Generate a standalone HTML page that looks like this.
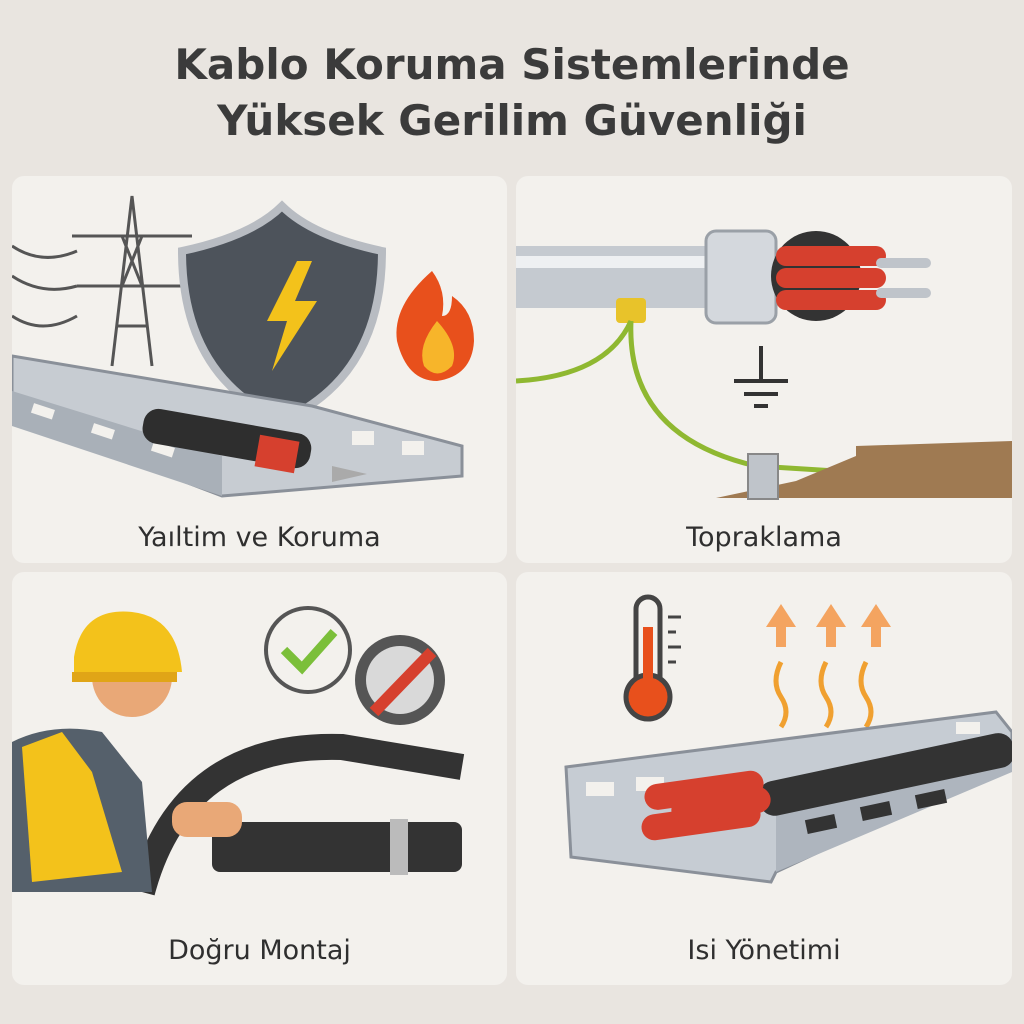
<!DOCTYPE html>
<html><head><meta charset="utf-8"><style>
html,body{margin:0;padding:0;}
body{width:1024px;height:1024px;background:#e9e5e0;font-family:"DejaVu Sans","Liberation Sans",sans-serif;position:relative;overflow:hidden;}
.t{position:absolute;left:0;width:1024px;text-align:center;font-weight:bold;font-size:42px;color:#3b3b3b;}
.p{position:absolute;background:#f3f1ed;border-radius:12px;}
.l{position:absolute;width:100%;text-align:center;font-size:27px;color:#2f2f2f;}
svg{position:absolute;left:0;top:0;}
</style></head><body>
<div class="t" style="top:40px">Kablo Koruma Sistemlerinde</div>
<div class="t" style="top:96px">Yüksek Gerilim Güvenliği</div>

<div class="p" style="left:12px;top:176px;width:495px;height:387px">
<svg width="495" height="387">
<g stroke="#555" stroke-width="3" fill="none">
<path d="M100 190 L120 20 L140 190 M105 150 L135 150 M110 110 L130 110 M60 60 L180 60 M65 110 L175 110 M110 60 L130 110 M130 60 L110 110"/>
<path d="M0 70 Q30 90 65 75 M0 100 Q30 120 65 110 M0 140 Q30 160 65 140"/>
</g>
<path d="M170 75 Q240 60 270 30 Q300 60 370 75 Q370 200 270 245 Q170 200 170 75Z" fill="#4d535b" stroke="#b8bcc2" stroke-width="8"/>
<path d="M285 85 L255 145 L275 145 L260 195 L305 125 L283 125 L300 85Z" fill="#f3c21b"/>
<path d="M420 95 Q380 130 385 165 Q395 205 425 205 Q460 200 462 165 Q462 135 440 120 Q440 140 430 140 Q435 115 420 95Z" fill="#e8501c"/>
<path d="M425 145 Q405 170 412 190 Q425 205 440 190 Q448 170 425 145Z" fill="#f7b52a"/>
<path d="M0 180 L300 230 L450 270 L450 300 L210 320 L0 240Z" fill="#c7ccd2" stroke="#8a9099" stroke-width="3"/>
<path d="M0 215 L210 280 L210 320 L0 250Z" fill="#a9b0b8"/>
<g fill="#f3f1ed"><rect x="20" y="230" width="22" height="10" transform="rotate(18 30 235)"/><rect x="80" y="250" width="22" height="10" transform="rotate(18 90 255)"/><rect x="140" y="268" width="22" height="10" transform="rotate(18 150 273)"/><rect x="340" y="255" width="22" height="14"/><rect x="390" y="265" width="22" height="14"/></g>
<rect x="130" y="245" width="170" height="35" rx="15" fill="#2e2e2e" transform="rotate(10 215 262)"/>
<rect x="245" y="262" width="40" height="32" fill="#d6402e" transform="rotate(10 265 278)"/>
<path d="M320 290 L355 298 L320 306Z" fill="#aaa"/>
</svg>
<div class="l" style="top:346px">Yaıltim ve Koruma</div>
</div>

<div class="p" style="left:516px;top:176px;width:496px;height:387px">
<svg width="496" height="387">
<rect x="0" y="70" width="200" height="62" fill="#c5cad0"/>
<rect x="0" y="80" width="200" height="12" fill="#eef0f2"/>
<rect x="190" y="55" width="70" height="92" rx="10" fill="#d4d8dd" stroke="#9aa0a7" stroke-width="3"/>
<ellipse cx="300" cy="100" rx="45" ry="45" fill="#333"/>
<g fill="#d6402e"><rect x="260" y="70" width="110" height="20" rx="10"/><rect x="260" y="92" width="110" height="20" rx="10"/><rect x="260" y="114" width="110" height="20" rx="10"/></g>
<g fill="#bfc4ca"><rect x="360" y="82" width="55" height="10" rx="5"/><rect x="360" y="112" width="55" height="10" rx="5"/></g>
<rect x="100" y="122" width="30" height="25" rx="4" fill="#e8c32a"/>
<path d="M0 205 Q90 200 115 145 M115 145 Q110 260 240 290 L400 300" stroke="#8fb831" stroke-width="5" fill="none"/>
<path d="M200 322 L280 305 L340 280 L340 270 L496 265 L496 322 Z" fill="#9f7a52"/>
<rect x="232" y="278" width="30" height="45" fill="#bfc4ca" stroke="#888" stroke-width="2"/>
<g stroke="#333" stroke-width="4"><path d="M245 170 L245 205 M218 205 L272 205 M228 218 L262 218 M238 230 L252 230"/></g>
</svg>
<div class="l" style="top:346px">Topraklama</div>
</div>

<div class="p" style="left:12px;top:572px;width:495px;height:413px">
<svg width="495" height="413">
<circle cx="296" cy="78" r="42" fill="#f3f1ed" stroke="#555" stroke-width="4"/>
<path d="M272 78 L290 96 L322 60" stroke="#7bbf3a" stroke-width="9" fill="none"/>
<circle cx="388" cy="108" r="45" fill="#555"/><circle cx="388" cy="108" r="34" fill="#d9d9d9"/>
<path d="M362 140 L420 80" stroke="#d6402e" stroke-width="12"/>
<path d="M130 320 Q170 170 330 175 L450 195" stroke="#333" stroke-width="26" fill="none"/>
<rect x="200" y="250" width="250" height="50" rx="8" fill="#333"/>
<rect x="378" y="247" width="18" height="56" fill="#bbb"/>
<path d="M0 170 Q40 150 90 160 L130 210 L140 320 L0 320Z" fill="#55606b"/>
<path d="M10 175 L50 160 L80 200 L110 300 L20 310Z" fill="#f3c21b"/>
<circle cx="120" cy="105" r="40" fill="#e9a877"/>
<path d="M62 85 Q70 35 120 40 Q165 45 170 100 L62 100Z" fill="#f3c21b"/>
<rect x="60" y="100" width="105" height="10" fill="#e0a517"/>
<rect x="160" y="230" width="70" height="35" rx="15" fill="#e9a877"/>
</svg>
<div class="l" style="top:363px">Doğru Montaj</div>
</div>

<div class="p" style="left:516px;top:572px;width:496px;height:413px">
<svg width="496" height="413">
<rect x="120" y="25" width="24" height="100" rx="12" fill="#f3f1ed" stroke="#444" stroke-width="5"/>
<circle cx="132" cy="125" r="22" fill="#e8501c" stroke="#444" stroke-width="5"/>
<rect x="127" y="55" width="10" height="70" fill="#e8501c"/>
<g stroke="#444" stroke-width="3"><path d="M152 45 L165 45 M152 60 L160 60 M152 75 L165 75 M152 90 L160 90"/></g>
<g fill="#f4a460"><path d="M250 55 L265 32 L280 55 L270 55 L270 75 L260 75 L260 55Z"/><path d="M300 55 L315 32 L330 55 L320 55 L320 75 L310 75 L310 55Z"/><path d="M345 55 L360 32 L375 55 L365 55 L365 75 L355 75 L355 55Z"/></g>
<g stroke="#f0a030" stroke-width="5" fill="none"><path d="M265 90 Q255 110 265 125 Q275 140 265 155"/><path d="M310 90 Q300 110 310 125 Q320 140 310 155"/><path d="M350 90 Q340 110 350 125 Q360 140 350 155"/></g>
<path d="M50 195 L480 140 L496 160 L496 190 L260 300 L255 310 L55 285 Z" fill="#c6ccd3" stroke="#8a9099" stroke-width="3"/>
<path d="M260 230 L496 175 L496 200 L260 300Z" fill="#aeb5be"/>
<g fill="#f3f1ed"><rect x="70" y="210" width="28" height="14"/><rect x="120" y="205" width="28" height="14"/><rect x="440" y="150" width="24" height="12"/></g>
<g fill="#333"><rect x="290" y="245" width="30" height="14" transform="rotate(-12 305 252)"/><rect x="345" y="232" width="30" height="14" transform="rotate(-12 360 239)"/><rect x="400" y="220" width="30" height="14" transform="rotate(-12 415 227)"/></g>
<rect x="240" y="185" width="260" height="35" rx="15" fill="#333" transform="rotate(-12 370 200)"/>
<g fill="#d6402e"><rect x="128" y="205" width="120" height="26" rx="13" transform="rotate(-8 190 218)"/><rect x="125" y="235" width="120" height="26" rx="13" transform="rotate(-8 190 248)"/><rect x="155" y="220" width="100" height="26" rx="13" transform="rotate(-8 205 233)"/></g>
</svg>
<div class="l" style="top:363px">Isi Yönetimi</div>
</div>
</body></html>
